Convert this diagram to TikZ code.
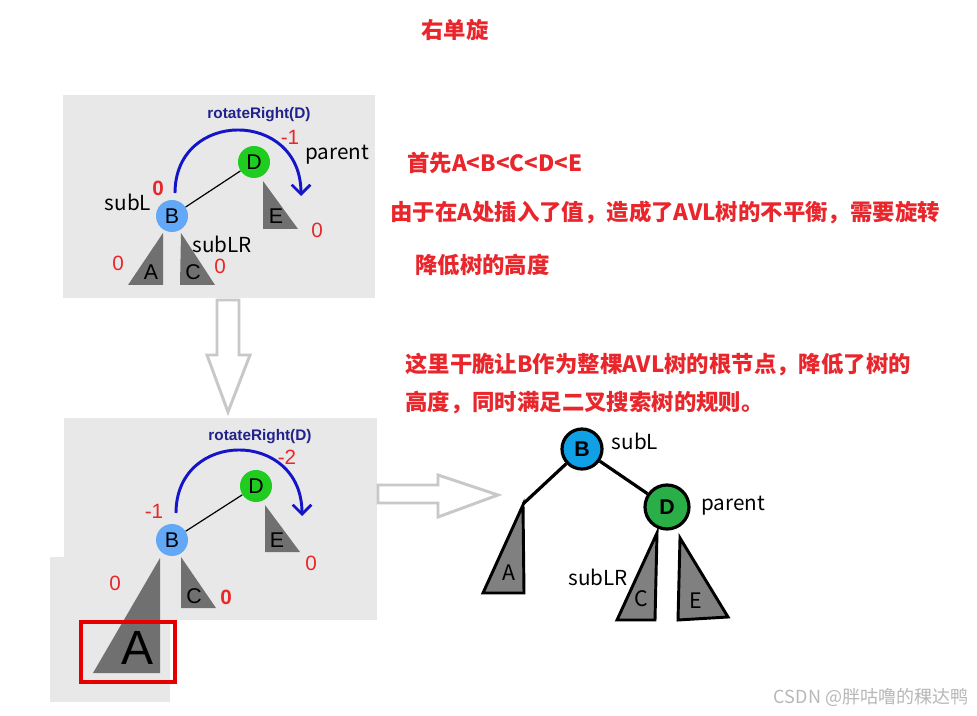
\documentclass[tikz,border=0pt]{standalone}
\usepackage{fontspec}
\setmainfont{Liberation Sans}
\newfontfamily\cjk{Noto Sans CJK SC}
\usetikzlibrary{arrows.meta}
\definecolor{panel}{HTML}{E8E8E8}
\definecolor{redt}{HTML}{E8262B}
\definecolor{navy}{HTML}{22228C}
\definecolor{arcblue}{HTML}{1414C8}
\definecolor{lblue}{HTML}{62A8F6}
\definecolor{lgreen}{HTML}{1FCC1F}
\definecolor{tgray}{HTML}{707070}
\definecolor{rblue}{HTML}{10A0E6}
\definecolor{rgreen}{HTML}{2AAE48}
\definecolor{rgray}{HTML}{808080}
\definecolor{hollow}{HTML}{C8C8C8}
\begin{document}
\begin{tikzpicture}[x=0.75pt,y=-0.75pt,
  redtxt/.style={text=redt, font=\cjk\bfseries\fontsize{16.8}{19}\selectfont, inner sep=0pt},
  lab/.style={font=\cjk\fontsize{15.5}{17}\selectfont, inner sep=0pt},
  num/.style={text=redt, font=\fontsize{15.5}{17}\selectfont, inner sep=0pt},
  numb/.style={text=redt, font=\bfseries\fontsize{15.5}{17}\selectfont, inner sep=0pt},
  rot/.style={text=navy, font=\bfseries\fontsize{11.5}{13}\selectfont, inner sep=0pt},
  circB/.style={circle, fill=lblue, minimum size=24pt, inner sep=0pt, font=\fontsize{16}{18}\selectfont},
  circD/.style={circle, fill=lgreen, minimum size=24pt, inner sep=0pt, font=\fontsize{16}{18}\selectfont},
  tri/.style={fill=tgray},
  trilab/.style={font=\fontsize{16}{18}\selectfont, inner sep=0pt},
  arcline/.style={draw=arcblue, line width=2.2pt, -{Straight Barb[length=7pt,width=14pt,line width=2pt]}},
  hollowarrow/.style={draw=hollow, line width=2.2pt, fill=white, line join=miter},
  rcirc/.style={circle, draw=black, line width=2.4pt, minimum size=30pt, inner sep=0pt, font=\bfseries\fontsize{16}{18}\selectfont},
  rtri/.style={fill=rgray, draw=black, line width=2.2pt, line join=miter},
  rlab/.style={font=\cjk\fontsize{15.5}{17}\selectfont, inner sep=0pt},
  rtrilab/.style={font=\cjk\fontsize{16}{18}\selectfont, inner sep=0pt},
  edge/.style={draw=black, line width=2.4pt}
]
\useasboundingbox (0,0) rectangle (977,716);
\fill[white] (0,0) rectangle (977,716);

% title
\node[redtxt] (title) at (455,30) {右单旋};

% right-side texts
\node[redtxt, anchor=west] (t1) at (407,163) {首先A<B<C<D<E};
\node[redtxt, anchor=west] (t2) at (390,212) {由于在A处插入了值，造成了AVL树的不平衡，需要旋转};
\node[redtxt, anchor=west] (t3) at (415,265) {降低树的高度};
\node[redtxt, anchor=west] (t4) at (405,365) {这里干脆让B作为整棵AVL树的根节点，降低了树的};
\node[redtxt, anchor=west] (t5) at (405,403) {高度，同时满足二叉搜索树的规则。};

% ---------- top panel ----------
\fill[panel] (63,95) rectangle (375,298);
\node[rot] (rot1) at (259,115) {rotateRight(D)};
\draw[arcline] (175,193) .. controls (175,109) and (301,109) .. (301,196);
\node[num] (m1) at (290,137) {-1};
\fill[tri] (263,181) -- (263,229) -- (298,229) -- cycle;
\node[trilab] (E1) at (276,216) {E};
\fill[tri] (163,233) -- (128,285) -- (163,285) -- cycle;
\node[trilab] (A1) at (151,272) {A};
\fill[tri] (181,233) -- (180,285) -- (215,285) -- cycle;
\node[trilab] (C1) at (193,272) {C};
\node[circD] (D1) at (254,162) {D};
\node[circB] (B1) at (172,216) {B};
\draw[line width=0.9pt] (B1) -- (D1);
\node[lab] (par1) at (337,155) {parent};
\node[lab] (subL1) at (128,202) {subL};
\node[lab] (subLR1) at (222,244) {subLR};
\node[numb] (z1) at (158,188) {0};
\node[num] (z2) at (317,230) {0};
\node[num] (z3) at (118,263) {0};
\node[num] (z4) at (220,266) {0};

% down hollow arrow
\draw[hollowarrow] (217,300) -- (239,300) -- (239,355) -- (250,355) -- (228,412) -- (207,355) -- (217,355) -- cycle;

% ---------- bottom panel ----------
\fill[panel] (64,418) rectangle (377,620);
\fill[panel] (50,557) rectangle (170,702);
\node[rot] (rot2) at (260,437) {rotateRight(D)};
\draw[arcline] (176,513) .. controls (176,429) and (302,429) .. (302,516);
\node[num] (m2) at (287,457) {-2};
\node[num] (m3) at (154,511) {-1};
\fill[tri] (265,505) -- (265,552) -- (300,552) -- cycle;
\node[trilab] (E2) at (277,540) {E};
\fill[tri] (181,557) -- (181,608) -- (216,608) -- cycle;
\node[trilab] (C2) at (194,596) {C};
\fill[tri] (160,558) -- (93,673) -- (160,673) -- cycle;
\node[font=\fontsize{36}{38}\selectfont, inner sep=0pt] (A2) at (138,648) {A};
\draw[draw=red!90!black, line width=2.3pt] (81,622) rectangle (175,682);
\node[circD] (D2) at (256,486) {D};
\node[circB] (B2) at (172,540) {B};
\draw[line width=0.9pt] (B2) -- (D2);
\node[num] (z5) at (311,563) {0};
\node[numb] (z6) at (226,597) {0};
\node[num] (z7) at (115,583) {0};

% right hollow arrow
\draw[hollowarrow] (378,485) -- (438,485) -- (438,475) -- (498,495) -- (438,517) -- (438,503) -- (378,503) -- cycle;

% ---------- result tree ----------
\coordinate (Atop) at (523,504);
\draw[rtri] (523,505) -- (483,593) -- (524,593) -- cycle;
\node[rtrilab] (A3) at (509,573) {A};
\draw[rtri] (657,533) -- (617,620) -- (655,620) -- cycle;
\node[rtrilab] (C3) at (641,599) {C};
\draw[rtri] (680,538) -- (678,620) -- (728,617) -- cycle;
\node[rtrilab] (E3) at (696,601) {E};
\node[rcirc, fill=rblue] (B3) at (582,449) {B};
\node[rcirc, fill=rgreen, minimum size=33pt] (D3) at (667,507) {D};
\draw[edge] (B3) -- (Atop);
\draw[edge] (B3) -- (D3);
\node[rlab] (subL3) at (635,441) {subL};
\node[rlab] (par3) at (733,506) {parent};
\node[rlab] (subLR3) at (598,577) {subLR};

% watermark
\node[text=black!28, font=\cjk\fontsize{13.5}{15}\selectfont, inner sep=0pt] (wm) at (871,697) {CSDN @胖咕噜的稞达鸭};
\end{tikzpicture}
\end{document}
